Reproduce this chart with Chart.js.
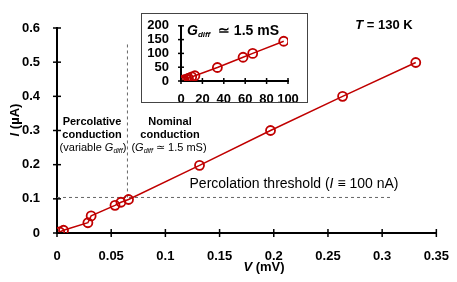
<!DOCTYPE html>
<html lang="en">
<head>
  <meta charset="UTF-8" />
  <title>I-V at 130 K</title>
  <script src="https://cdn.jsdelivr.net/npm/chart.js"></script>
  <style>
    body { margin: 0; background: #fff; }
    .wrap { position: relative; width: 457px; height: 282px; }
    #mainChart { position: absolute; left: 0; top: 0; }
    .inset {
      position: absolute;
      left: 141px; top: 13px;
      width: 165px; height: 88px;
      border: 1px solid #444;
      background: #fff;
    }
  </style>
</head>
<body>
  <div class="wrap">
    <canvas id="mainChart" width="457" height="282"></canvas>
    <div class="inset">
      <canvas id="insetChart" width="165" height="88"></canvas>
    </div>
  </div>

  <script>
    // main curve, V in mV, I in uA
    const mainV = [0.0025, 0.0060, 0.0285, 0.0315, 0.0535, 0.0590, 0.0660, 0.1315, 0.1970, 0.2635, 0.3310];
    const mainI = [0.003, 0.008, 0.030, 0.050, 0.081, 0.090, 0.098, 0.198, 0.300, 0.400, 0.499];

    // inset
    const insetV = [0, 1, 2, 3, 5, 7, 10, 13, 34, 58, 67, 96];
    const insetI = [0, 1, 3, 4, 7, 10, 15, 19, 49, 86, 100, 144];

    // reference lines
    const thresholdI = 0.104;
    const thresholdV = 0.065;
    const thresholdEndV = 0.31;
    const dividerTopI = 0.56;

    const RED = "#c00000";
    const FONT = "'Liberation Sans', Arial, sans-serif";

    Chart.defaults.font.family = FONT;
    Chart.defaults.color = "#000";

    // rich text: list of [text, font, dy]
    function drawRich(ctx, parts, x, y, align) {
      let total = 0;
      parts.forEach(p => { ctx.font = p[1]; total += ctx.measureText(p[0]).width; });
      let cx = align === "center" ? x - total / 2 : x;
      ctx.textBaseline = "middle";
      ctx.textAlign = "left";
      parts.forEach(p => {
        ctx.font = p[1];
        ctx.fillText(p[0], cx, y + (p[2] || 0));
        cx += ctx.measureText(p[0]).width;
      });
    }

    // ticks crossing the axis on both sides
    function crossTicks(len) {
      return {
        id: 'crossTicks',
        afterDraw(chart) {
          const ctx = chart.ctx;
          const xs = chart.scales.x, ys = chart.scales.y;
          ctx.save();
          ctx.strokeStyle = "#000";
          ctx.lineWidth = 1.5;
          xs.ticks.forEach(t => {
            const px = xs.getPixelForValue(t.value);
            ctx.beginPath();
            ctx.moveTo(px, xs.top - len);
            ctx.lineTo(px, xs.top + len);
            ctx.stroke();
          });
          ys.ticks.forEach(t => {
            const py = ys.getPixelForValue(t.value);
            ctx.beginPath();
            ctx.moveTo(ys.right - len, py);
            ctx.lineTo(ys.right + len, py);
            ctx.stroke();
          });
          ctx.restore();
        }
      };
    }

    const annotations = {
      id: 'annotations',
      beforeDatasetsDraw(chart) {
        const ctx = chart.ctx;
        const xs = chart.scales.x, ys = chart.scales.y;
        ctx.save();
        ctx.strokeStyle = "#666";
        ctx.lineWidth = 1;
        ctx.setLineDash([3, 3]);
        ctx.beginPath();
        ctx.moveTo(xs.getPixelForValue(0), ys.getPixelForValue(thresholdI));
        ctx.lineTo(xs.getPixelForValue(thresholdEndV), ys.getPixelForValue(thresholdI));
        ctx.moveTo(xs.getPixelForValue(thresholdV), ys.getPixelForValue(thresholdI));
        ctx.lineTo(xs.getPixelForValue(thresholdV), ys.getPixelForValue(dividerTopI));
        ctx.stroke();
        ctx.restore();
      },
      afterDraw(chart) {
        const ctx = chart.ctx;
        ctx.save();
        ctx.fillStyle = "#000";
        const b11 = "bold 11px " + FONT;
        drawRich(ctx, [["Percolative", b11]], 92, 122, "center");
        drawRich(ctx, [["conduction", b11]], 92, 135, "center");
        drawRich(ctx, [["(variable ", "11px " + FONT], ["G", "italic 11px " + FONT], ["diff", "italic 7px " + FONT, 3], [")", "11px " + FONT]], 93, 148, "center");
        drawRich(ctx, [["Nominal", b11]], 170, 122, "center");
        drawRich(ctx, [["conduction", b11]], 170, 135, "center");
        drawRich(ctx, [["(", "11px " + FONT], ["G", "italic 11px " + FONT], ["diff", "italic 7px " + FONT, 3], [" \u2243 1.5 mS)", "11px " + FONT]], 169, 148, "center");
        drawRich(ctx, [["Percolation threshold (", "14px " + FONT], ["I", "italic 14px " + FONT], [" \u2261 100 nA)", "14px " + FONT]], 294, 184, "center");
        drawRich(ctx, [["T", "italic bold 13px " + FONT], [" = 130 K", "bold 13px " + FONT]], 384, 25, "center");
        // axis titles
        drawRich(ctx, [["V", "italic bold 13px " + FONT], [" (mV)", "bold 13px " + FONT]], 264, 267, "center");
        ctx.translate(15, 120);
        ctx.rotate(-Math.PI / 2);
        drawRich(ctx, [["I", "italic bold 13px " + FONT], [" (\u00b5A)", "bold 13px " + FONT]], 0, 0, "center");
        ctx.restore();
      }
    };

    const insetText = {
      id: 'insetText',
      afterDraw(chart) {
        const ctx = chart.ctx;
        ctx.save();
        ctx.fillStyle = "#000";
        drawRich(ctx, [["G", "italic bold 14px " + FONT], ["diff", "italic bold 8px " + FONT, 4], ["  \u2243 1.5 mS", "bold 14px " + FONT]], 45, 17, "left");
        ctx.restore();
      }
    };

    function pts(xs, ys) {
      return xs.map((v, i) => ({ x: v, y: ys[i] }));
    }

    new Chart(document.getElementById("mainChart"), {
      type: "scatter",
      data: {
        datasets: [{
          data: pts(mainV, mainI),
          showLine: true,
          borderColor: RED,
          borderWidth: 1.5,
          pointBackgroundColor: "rgba(0,0,0,0)",
          pointBorderColor: RED,
          pointBorderWidth: 1.8,
          pointRadius: 4.5
        }]
      },
      options: {
        responsive: false,
        animation: false,
        layout: { padding: { left: 0, top: 28, right: 19, bottom: 0 } },
        plugins: { legend: { display: false }, tooltip: { enabled: false } },
        scales: {
          x: {
            type: "linear",
            min: 0, max: 0.35,
            afterFit: s => { s.height = 49; },
            grid: { display: false },
            border: { color: "#000", width: 2 },
            ticks: {
              stepSize: 0.05,
              padding: 8,
              autoSkip: false,
              maxRotation: 0,
              font: { size: 13, weight: "bold" },
              callback: v => String(+v.toFixed(2))
            }
          },
          y: {
            min: 0, max: 0.6,
            afterFit: s => { s.width = 57; },
            grid: { display: false },
            border: { color: "#000", width: 2 },
            ticks: {
              stepSize: 0.1,
              padding: 9,
              font: { size: 13, weight: "bold" },
              callback: v => String(+v.toFixed(1))
            }
          }
        }
      },
      plugins: [annotations, crossTicks(4)]
    });

    new Chart(document.getElementById("insetChart"), {
      type: "scatter",
      data: {
        datasets: [{
          data: pts(insetV, insetI),
          showLine: true,
          borderColor: RED,
          borderWidth: 1.5,
          pointBackgroundColor: "rgba(0,0,0,0)",
          pointBorderColor: RED,
          pointBorderWidth: 1.8,
          pointRadius: 4.5
        }]
      },
      options: {
        responsive: false,
        animation: false,
        layout: { padding: { left: 0, top: 9, right: 19, bottom: 0 } },
        plugins: { legend: { display: false }, tooltip: { enabled: false } },
        scales: {
          x: {
            type: "linear",
            min: 0, max: 100,
            afterFit: s => { s.height = 21; },
            grid: { display: false },
            border: { color: "#000", width: 2 },
            ticks: {
              stepSize: 20, padding: 3, autoSkip: false, maxRotation: 0, minRotation: 0,
              font: { size: 13, weight: "bold" }
            }
          },
          y: {
            min: 0, max: 200,
            afterFit: s => { s.width = 39; },
            grid: { display: false },
            border: { color: "#000", width: 2 },
            ticks: { stepSize: 50, padding: 4, autoSkip: false, font: { size: 13, weight: "bold" } }
          }
        }
      },
      plugins: [insetText, crossTicks(3)]
    });
  </script>
</body>
</html>
